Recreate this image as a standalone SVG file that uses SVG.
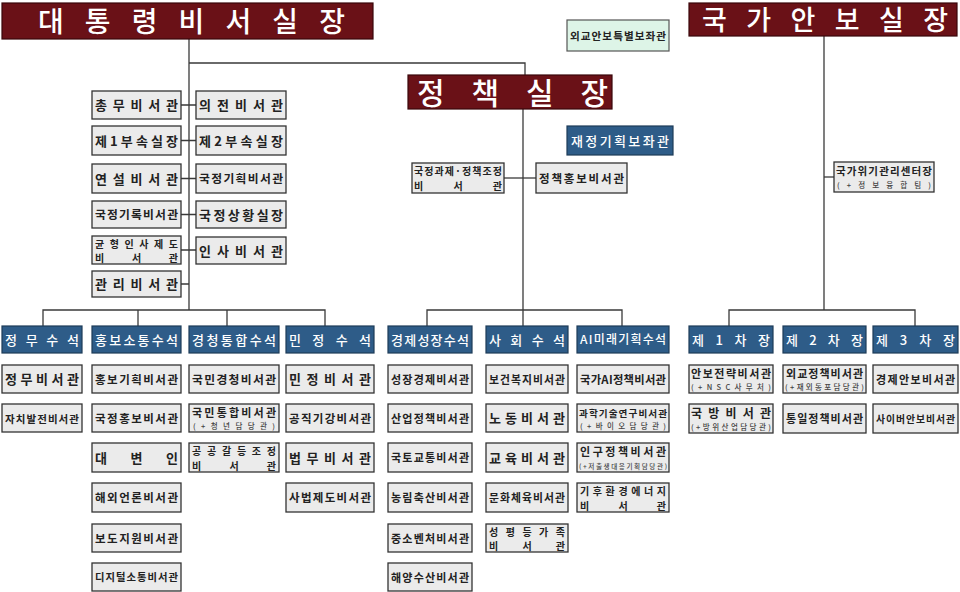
<svg xmlns="http://www.w3.org/2000/svg" width="960" height="592" viewBox="0 0 960 592" font-size="13">
<style>
.bg{fill:#ffffff}
.box{fill:#ebebeb;stroke:#333;stroke-width:1.3}
.blue{fill:#2e5c88;stroke:#1d3b58;stroke-width:1.2}
.maroon{fill:#6a1117;stroke:#3a080b;stroke-width:1.2}
.mint{fill:#ddf4e7;stroke:#555;stroke-width:1.2}
.conn{stroke:#3a3a3a;stroke-width:1.3;fill:none}
text{font-family:"Noto Sans CJK KR","Noto Sans",sans-serif}
.t{font-weight:700;fill:#222}
.w{font-weight:500;fill:#fff}
.s{font-weight:500;fill:#444}
.ttl{font-weight:500;fill:#fff}
</style>
<rect class="bg" x="0" y="0" width="960" height="592"/>

<g id="connectors">
<path class="conn" d="M189 39V310"/>
<path class="conn" d="M189 63H525V75"/>
<path class="conn" d="M523 109V310"/>
<path class="conn" d="M824 36V310"/>
<path class="conn" d="M181 105H196M181 140.5H196M181 178.5H196M181 214.5H196M181 250H196M181 284H189"/>
<path class="conn" d="M504 178H536"/>
<path class="conn" d="M824 177H834"/>
<path class="conn" d="M43 326V310H325V326M138 310V326M227 310V326"/>
<path class="conn" d="M427 326V310H622V326M523 310V326"/>
<path class="conn" d="M729 326V310H915V326"/>
</g>

<g id="chief-of-staff"><rect class="maroon" x="2" y="3" width="371" height="36"/><text class="ttl" x="38" y="32" font-size="28" textLength="307" lengthAdjust="spacing">대통령비서실장</text></g>
<g id="national-security"><rect class="maroon" x="689" y="3" width="268" height="33"/><text class="ttl" x="702" y="30" font-size="27" textLength="246" lengthAdjust="spacing">국가안보실장</text></g>
<g id="policy-chief"><rect class="maroon" x="408" y="75" width="204" height="34"/><text class="ttl" x="417" y="103.5" font-size="30" textLength="191" lengthAdjust="spacing">정책실장</text></g>
<g id="diplomacy-advisor"><rect class="mint" x="567" y="20" width="102" height="31"/><text class="t" x="570" y="40" font-size="10.6" textLength="96" lengthAdjust="spacing">외교안보특별보좌관</text></g>
<g id="fiscal-advisor"><rect class="blue" x="567" y="126" width="106" height="29"/><text class="w" x="571" y="145.5" textLength="98" lengthAdjust="spacing">재정기획보좌관</text></g>
<g id="state-tasks"><rect class="box" x="412" y="163" width="92" height="30"/><text class="t" x="414" y="175.3" font-size="10" textLength="88" lengthAdjust="spacing">국정과제·정책조정</text><text class="t" x="414" y="190.3" font-size="10" textLength="88" lengthAdjust="spacing">비서관</text></g>
<g id="policy-pr"><rect class="box" x="536" y="163" width="91" height="30"/><text class="t" x="539" y="182.5" font-size="11.5" textLength="85" lengthAdjust="spacing">정책홍보비서관</text></g>
<g id="crisis-center"><rect class="box" x="834" y="162" width="100" height="30"/><text class="t" x="836" y="175" font-size="10.5" textLength="96" lengthAdjust="spacing">국가위기관리센터장</text><text class="s" x="837" y="187.5" font-size="7.5" textLength="94" lengthAdjust="spacing">(+정보융합팀)</text></g>

<g id="l1"><rect class="box" x="92" y="91" width="89" height="28"/><text class="t" x="95" y="110" textLength="83" lengthAdjust="spacing">총무비서관</text></g>
<g id="r1"><rect class="box" x="196" y="91" width="90" height="28"/><text class="t" x="199" y="110" textLength="84" lengthAdjust="spacing">의전비서관</text></g>
<g id="l2"><rect class="box" x="92" y="126" width="89" height="29"/><text class="t" x="95" y="145.5" textLength="83" lengthAdjust="spacing">제1부속실장</text></g>
<g id="r2"><rect class="box" x="196" y="126" width="90" height="29"/><text class="t" x="199" y="145.5" textLength="84" lengthAdjust="spacing">제2부속실장</text></g>
<g id="l3"><rect class="box" x="92" y="164" width="89" height="29"/><text class="t" x="95" y="183.5" textLength="83" lengthAdjust="spacing">연설비서관</text></g>
<g id="r3"><rect class="box" x="196" y="164" width="90" height="29"/><text class="t" x="199" y="183" font-size="11.8" textLength="84" lengthAdjust="spacing">국정기획비서관</text></g>
<g id="l4"><rect class="box" x="92" y="201" width="89" height="27"/><text class="t" x="95" y="219" font-size="11.8" textLength="83" lengthAdjust="spacing">국정기록비서관</text></g>
<g id="r4"><rect class="box" x="196" y="201" width="90" height="27"/><text class="t" x="199" y="219.5" textLength="84" lengthAdjust="spacing">국정상황실장</text></g>
<g id="l5"><rect class="box" x="92" y="236" width="89" height="28"/><text class="t" x="95" y="247.8" font-size="10" textLength="83" lengthAdjust="spacing">균형인사제도</text><text class="t" x="95" y="262.4" font-size="10" textLength="83" lengthAdjust="spacing">비서관</text></g>
<g id="r5"><rect class="box" x="196" y="237" width="90" height="27"/><text class="t" x="199" y="255.5" textLength="84" lengthAdjust="spacing">인사비서관</text></g>
<g id="l6"><rect class="box" x="92" y="271" width="89" height="26"/><text class="t" x="95" y="289" textLength="83" lengthAdjust="spacing">관리비서관</text></g>

<g id="h-jeongmu"><rect class="blue" x="2" y="326" width="80" height="27"/><text class="w" x="5" y="344.5" textLength="74" lengthAdjust="spacing">정무수석</text></g>
<g id="c1-1"><rect class="box" x="2" y="365" width="80" height="28"/><text class="t" x="5" y="384" textLength="74" lengthAdjust="spacing">정무비서관</text></g>
<g id="c1-2"><rect class="box" x="2" y="404" width="80" height="28"/><text class="t" x="5" y="422.5" font-size="10.5" textLength="74" lengthAdjust="spacing">자치발전비서관</text></g>

<g id="h-hongbo"><rect class="blue" x="92" y="326" width="89" height="27"/><text class="w" x="95" y="344.5" textLength="83" lengthAdjust="spacing">홍보소통수석</text></g>
<g id="c2-1"><rect class="box" x="92" y="365" width="89" height="28"/><text class="t" x="95" y="383.5" font-size="11.5" textLength="83" lengthAdjust="spacing">홍보기획비서관</text></g>
<g id="c2-2"><rect class="box" x="92" y="404" width="89" height="28"/><text class="t" x="95" y="422.5" font-size="11.5" textLength="83" lengthAdjust="spacing">국정홍보비서관</text></g>
<g id="c2-3"><rect class="box" x="92" y="443" width="89" height="29"/><text class="t" x="95" y="462.5" textLength="83" lengthAdjust="spacing">대변인</text></g>
<g id="c2-4"><rect class="box" x="92" y="483" width="89" height="29"/><text class="t" x="95" y="502" font-size="11.5" textLength="83" lengthAdjust="spacing">해외언론비서관</text></g>
<g id="c2-5"><rect class="box" x="92" y="524" width="89" height="28"/><text class="t" x="95" y="542.5" font-size="11.5" textLength="83" lengthAdjust="spacing">보도지원비서관</text></g>
<g id="c2-6"><rect class="box" x="92" y="563" width="89" height="28"/><text class="t" x="95" y="581" font-size="10.3" textLength="83" lengthAdjust="spacing">디지털소통비서관</text></g>

<g id="h-gyeongcheong"><rect class="blue" x="189" y="326" width="90" height="27"/><text class="w" x="192" y="344.5" textLength="84" lengthAdjust="spacing">경청통합수석</text></g>
<g id="c3-1"><rect class="box" x="189" y="365" width="90" height="28"/><text class="t" x="192" y="383.5" font-size="11.8" textLength="84" lengthAdjust="spacing">국민경청비서관</text></g>
<g id="c3-2"><rect class="box" x="189" y="404" width="90" height="28"/><text class="t" x="192" y="416.5" font-size="11" textLength="84" lengthAdjust="spacing">국민통합비서관</text><text class="s" x="193" y="428.5" font-size="7.5" textLength="82" lengthAdjust="spacing">(+청년담당관)</text></g>
<g id="c3-3"><rect class="box" x="189" y="443" width="90" height="29"/><text class="t" x="192" y="455" font-size="10" textLength="84" lengthAdjust="spacing">공공갈등조정</text><text class="t" x="192" y="469.6" font-size="10" textLength="84" lengthAdjust="spacing">비서관</text></g>

<g id="h-minjeong"><rect class="blue" x="286" y="326" width="88" height="27"/><text class="w" x="289" y="344.5" textLength="82" lengthAdjust="spacing">민정수석</text></g>
<g id="c4-1"><rect class="box" x="286" y="365" width="88" height="28"/><text class="t" x="289" y="384" textLength="82" lengthAdjust="spacing">민정비서관</text></g>
<g id="c4-2"><rect class="box" x="286" y="404" width="88" height="28"/><text class="t" x="289" y="422.5" font-size="11.5" textLength="82" lengthAdjust="spacing">공직기강비서관</text></g>
<g id="c4-3"><rect class="box" x="286" y="443" width="88" height="29"/><text class="t" x="289" y="462.5" textLength="82" lengthAdjust="spacing">법무비서관</text></g>
<g id="c4-4"><rect class="box" x="286" y="483" width="88" height="29"/><text class="t" x="289" y="502" font-size="11.5" textLength="82" lengthAdjust="spacing">사법제도비서관</text></g>

<g id="h-economy"><rect class="blue" x="388" y="326" width="84" height="27"/><text class="w" x="391" y="344.5" textLength="78" lengthAdjust="spacing">경제성장수석</text></g>
<g id="c5-1"><rect class="box" x="388" y="365" width="84" height="28"/><text class="t" x="391" y="383.5" font-size="11" textLength="78" lengthAdjust="spacing">성장경제비서관</text></g>
<g id="c5-2"><rect class="box" x="388" y="404" width="84" height="28"/><text class="t" x="391" y="422.5" font-size="11" textLength="78" lengthAdjust="spacing">산업정책비서관</text></g>
<g id="c5-3"><rect class="box" x="388" y="443" width="84" height="29"/><text class="t" x="391" y="462" font-size="11" textLength="78" lengthAdjust="spacing">국토교통비서관</text></g>
<g id="c5-4"><rect class="box" x="388" y="483" width="84" height="29"/><text class="t" x="391" y="502" font-size="11" textLength="78" lengthAdjust="spacing">농림축산비서관</text></g>
<g id="c5-5"><rect class="box" x="388" y="524" width="84" height="28"/><text class="t" x="391" y="542.5" font-size="11" textLength="78" lengthAdjust="spacing">중소벤처비서관</text></g>
<g id="c5-6"><rect class="box" x="388" y="563" width="84" height="28"/><text class="t" x="391" y="581.5" font-size="11" textLength="78" lengthAdjust="spacing">해양수산비서관</text></g>

<g id="h-social"><rect class="blue" x="486" y="326" width="82" height="27"/><text class="w" x="489" y="344.5" textLength="76" lengthAdjust="spacing">사회수석</text></g>
<g id="c6-1"><rect class="box" x="486" y="365" width="82" height="28"/><text class="t" x="489" y="383.5" font-size="10.8" textLength="76" lengthAdjust="spacing">보건복지비서관</text></g>
<g id="c6-2"><rect class="box" x="486" y="404" width="82" height="28"/><text class="t" x="489" y="423" textLength="76" lengthAdjust="spacing">노동비서관</text></g>
<g id="c6-3"><rect class="box" x="486" y="443" width="82" height="29"/><text class="t" x="489" y="462.5" textLength="76" lengthAdjust="spacing">교육비서관</text></g>
<g id="c6-4"><rect class="box" x="486" y="483" width="82" height="29"/><text class="t" x="489" y="502" font-size="10.8" textLength="76" lengthAdjust="spacing">문화체육비서관</text></g>
<g id="c6-5"><rect class="box" x="486" y="524" width="82" height="28"/><text class="t" x="489" y="535.8" font-size="10" textLength="76" lengthAdjust="spacing">성평등가족</text><text class="t" x="489" y="550.4" font-size="10" textLength="76" lengthAdjust="spacing">비서관</text></g>

<g id="h-ai"><rect class="blue" x="577" y="326" width="92" height="27"/><text class="w" x="580" y="344" font-size="12" textLength="86" lengthAdjust="spacing">AI미래기획수석</text></g>
<g id="c7-1"><rect class="box" x="577" y="365" width="92" height="28"/><text class="t" x="580" y="383.5" font-size="11.3" textLength="86" lengthAdjust="spacing">국가AI정책비서관</text></g>
<g id="c7-2"><rect class="box" x="577" y="404" width="92" height="28"/><text class="t" x="579" y="416.5" font-size="9.6" textLength="88" lengthAdjust="spacing">과학기술연구비서관</text><text class="s" x="580" y="428.5" font-size="7.5" textLength="86" lengthAdjust="spacing">(+바이오담당관)</text></g>
<g id="c7-3"><rect class="box" x="577" y="443" width="92" height="29"/><text class="t" x="580" y="456" font-size="11" textLength="86" lengthAdjust="spacing">인구정책비서관</text><text class="s" x="579" y="468.5" font-size="6.6" textLength="88" lengthAdjust="spacing">(+저출생대응기획담당관)</text></g>
<g id="c7-4"><rect class="box" x="577" y="483" width="92" height="29"/><text class="t" x="580" y="495" font-size="10" textLength="86" lengthAdjust="spacing">기후환경에너지</text><text class="t" x="580" y="509.6" font-size="10" textLength="86" lengthAdjust="spacing">비서관</text></g>

<g id="h-vice1"><rect class="blue" x="689" y="326" width="84" height="27"/><text class="w" x="692" y="344.5" textLength="78" lengthAdjust="spacing">제1차장</text></g>
<g id="c8-1"><rect class="box" x="689" y="365" width="84" height="28"/><text class="t" x="691" y="377.5" font-size="11" textLength="80" lengthAdjust="spacing">안보전략비서관</text><text class="s" x="691" y="389.5" font-size="7.5" textLength="80" lengthAdjust="spacing">(+NSC사무처)</text></g>
<g id="c8-2"><rect class="box" x="689" y="404" width="84" height="29"/><text class="t" x="691" y="417.5" font-size="12" textLength="80" lengthAdjust="spacing">국방비서관</text><text class="s" x="691" y="430" font-size="7.5" textLength="80" lengthAdjust="spacing">(+방위산업담당관)</text></g>

<g id="h-vice2"><rect class="blue" x="783" y="326" width="83" height="27"/><text class="w" x="786" y="344.5" textLength="77" lengthAdjust="spacing">제2차장</text></g>
<g id="c9-1"><rect class="box" x="783" y="365" width="83" height="28"/><text class="t" x="786" y="377.5" font-size="11" textLength="77" lengthAdjust="spacing">외교정책비서관</text><text class="s" x="785" y="389.5" font-size="7.5" textLength="79" lengthAdjust="spacing">(+재외동포담당관)</text></g>
<g id="c9-2"><rect class="box" x="783" y="404" width="83" height="29"/><text class="t" x="786" y="423" font-size="11" textLength="77" lengthAdjust="spacing">통일정책비서관</text></g>

<g id="h-vice3"><rect class="blue" x="873" y="326" width="85" height="27"/><text class="w" x="876" y="344.5" textLength="79" lengthAdjust="spacing">제3차장</text></g>
<g id="c10-1"><rect class="box" x="873" y="365" width="85" height="28"/><text class="t" x="876" y="383.5" font-size="11" textLength="79" lengthAdjust="spacing">경제안보비서관</text></g>
<g id="c10-2"><rect class="box" x="873" y="404" width="85" height="29"/><text class="t" x="876" y="422.5" font-size="9.8" textLength="79" lengthAdjust="spacing">사이버안보비서관</text></g>
</svg>
